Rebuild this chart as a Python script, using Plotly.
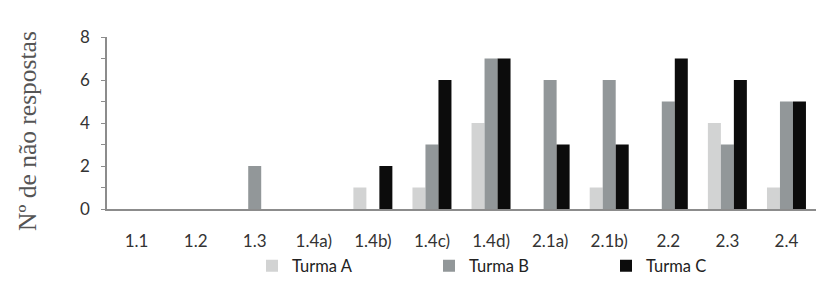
import plotly.graph_objects as go

categories = ["1.1", "1.2", "1.3", "1.4a)", "1.4b)", "1.4c)", "1.4d)", "2.1a)", "2.1b)", "2.2", "2.3", "2.4"]
turma_a = [0, 0, 0, 0, 1, 1, 4, 0, 1, 0, 4, 1]
turma_b = [0, 0, 2, 0, 0, 3, 7, 6, 6, 5, 3, 5]
turma_c = [0, 0, 0, 0, 2, 6, 7, 3, 3, 7, 6, 5]
y_ticks = [0, 2, 4, 6, 8]
y_title = "Nº de não respostas"

fig = go.Figure()
for name, vals, col in [("Turma A", turma_a, "#d2d3d3"),
                        ("Turma B", turma_b, "#929799"),
                        ("Turma C", turma_c, "#0c0c0c")]:
    fig.add_trace(go.Bar(x=categories, y=vals, name=name, marker=dict(color=col, line=dict(width=0))))

fig.update_layout(
    width=831, height=287,
    margin=dict(l=107, r=15, t=37, b=78, autoexpand=False),
    paper_bgcolor="white", plot_bgcolor="white",
    barmode="group", bargap=0.34, bargroupgap=0,
    font=dict(family="Lato", size=17, color="#333333"),
    legend=dict(orientation="h", x=(252 - 107) / 709, xanchor="left", y=-0.23, yanchor="top",
                entrywidth=132, entrywidthmode="pixels",
                font=dict(size=16.5, color="#222222"), itemwidth=30),
    showlegend=True,
)
fig.add_annotation(text=y_title, textangle=-90, xref="paper", yref="paper",
                   x=(27 - 107) / 709, y=(209 - 131) / 172, xanchor="center", yanchor="middle",
                   showarrow=False, font=dict(family="Liberation Serif", size=25.5, color="#555555"))
fig.update_xaxes(showline=True, linecolor="#8c8c8c", linewidth=2, ticks="",
                 ticklabelstandoff=16, showgrid=False, zeroline=False, automargin=False)
fig.update_yaxes(range=[0, 8], tickvals=y_ticks, showline=True, linecolor="#8c8c8c", linewidth=1.5,
                 ticks="outside", ticklen=4, tickcolor="#8c8c8c",
                 minor=dict(dtick=1, ticks="outside", ticklen=4, tickcolor="#8c8c8c"),
                 ticklabelstandoff=8, showgrid=False, zeroline=False, automargin=False)

fig.write_html("out.html", config={"displayModeBar": False},
               post_script="document.body.style.margin='0px';")
